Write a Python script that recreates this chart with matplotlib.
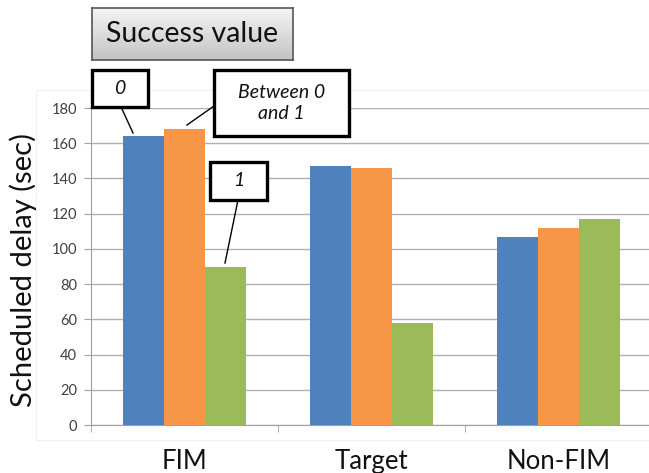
import matplotlib
matplotlib.use("Agg")
import matplotlib.pyplot as plt
import numpy as np
from matplotlib.patches import Rectangle
from matplotlib.lines import Line2D

categories = ["FIM", "Target", "Non-FIM"]
series_names = ["0", "Between 0\nand 1", "1"]
val_0 = [164, 147, 107]
val_between = [168, 146, 112]
val_1 = [90, 58, 117]
colors = ["#4f81bd", "#f79646", "#9bbb59"]
yticks = [0, 20, 40, 60, 80, 100, 120, 140, 160, 180]

W, H = 649, 473
plt.rcParams['font.family'] = ['Lato', 'DejaVu Sans']
fig = plt.figure(figsize=(W / 100, H / 100), dpi=100)

def fx(px):
    return px / W
def fy(py):
    return 1 - py / H

# faint chart-area border
fig.add_artist(Rectangle((fx(36), fy(440)), fx(660) - fx(36), fy(90) - fy(440),
                         transform=fig.transFigure, facecolor="none",
                         edgecolor="#f0f0f0", linewidth=0.8, zorder=0))

ax = fig.add_axes([91 / W, 48 / H, (W - 91) / W, (425 - 108) / H])

x = np.arange(len(categories))
bw = 0.22
for i, (vals, c) in enumerate(zip([val_0, val_between, val_1], colors)):
    ax.bar(x + (i - 1) * bw, vals, bw, color=c, zorder=3, linewidth=0)

ax.set_xlim(-0.5, 2.5 - 3 / 187)
ax.set_ylim(0, 180)
ax.set_yticks(yticks)
ax.set_yticklabels([str(t) for t in yticks], fontsize=10.5, color="#404040")
ax.yaxis.grid(True, color="#b0b0b0", linewidth=1.0, zorder=0)
ax.set_axisbelow(True)
for s in ["top", "right"]:
    ax.spines[s].set_visible(False)
ax.spines["left"].set_color("#a0a0a0")
ax.spines["bottom"].set_color("#a0a0a0")
ax.tick_params(axis="y", length=5, color="#a0a0a0", pad=5)
ax.set_xticks(x)
ax.set_xticklabels(categories, fontsize=18.5, color="#111111")
ax.tick_params(axis="x", length=0, pad=17)
ax.set_xticks([-0.5, 0.5, 1.5], minor=True)
ax.tick_params(axis="x", which="minor", length=5, color="#a0a0a0")
ax.set_ylabel("Scheduled delay (sec)", fontsize=21, color="#111111")
ax.yaxis.set_label_coords(-0.097, 0.49)

# Success value box with gradient
gax = fig.add_axes([fx(92), fy(60), fx(293) - fx(92), fy(8) - fy(60)])
grad = np.linspace(0, 1, 100).reshape(-1, 1)
gax.imshow(grad, aspect="auto", cmap=matplotlib.colors.LinearSegmentedColormap.from_list(
    "g", ["#f4f4f4", "#c4c4c4"]), extent=[0, 1, 0, 1], origin="upper")
gax.set_xticks([]); gax.set_yticks([])
for s in gax.spines.values():
    s.set_color("#555555"); s.set_linewidth(1.2)
gax.text(0.5, 0.5, "Success value", ha="center", va="center", fontsize=20.5,
         color="#111111", transform=gax.transAxes)

def label_box(x0, y0, x1, y1, text, fs=14):
    fig.add_artist(Rectangle((fx(x0), fy(y1)), fx(x1) - fx(x0), fy(y0) - fy(y1),
                             transform=fig.transFigure, facecolor="white",
                             edgecolor="black", linewidth=2.4, zorder=10))
    fig.text(fx((x0 + x1) / 2), fy((y0 + y1) / 2), text, ha="center", va="center",
             fontsize=fs, style="italic", color="#111111", zorder=11,
             linespacing=1.3)

def leader(p0, p1):
    fig.add_artist(Line2D([fx(p0[0]), fx(p1[0])], [fy(p0[1]), fy(p1[1])],
                          transform=fig.transFigure, color="black", linewidth=1.0, zorder=9))

label_box(92, 70, 148, 107, series_names[0])
label_box(214, 70, 349, 136, series_names[1])
label_box(210, 162, 267, 200, series_names[2])
leader((122, 109), (133, 133))
leader((214, 106), (187, 125))
leader((238, 200), (225, 263))

fig.savefig("out.png", dpi=100)
